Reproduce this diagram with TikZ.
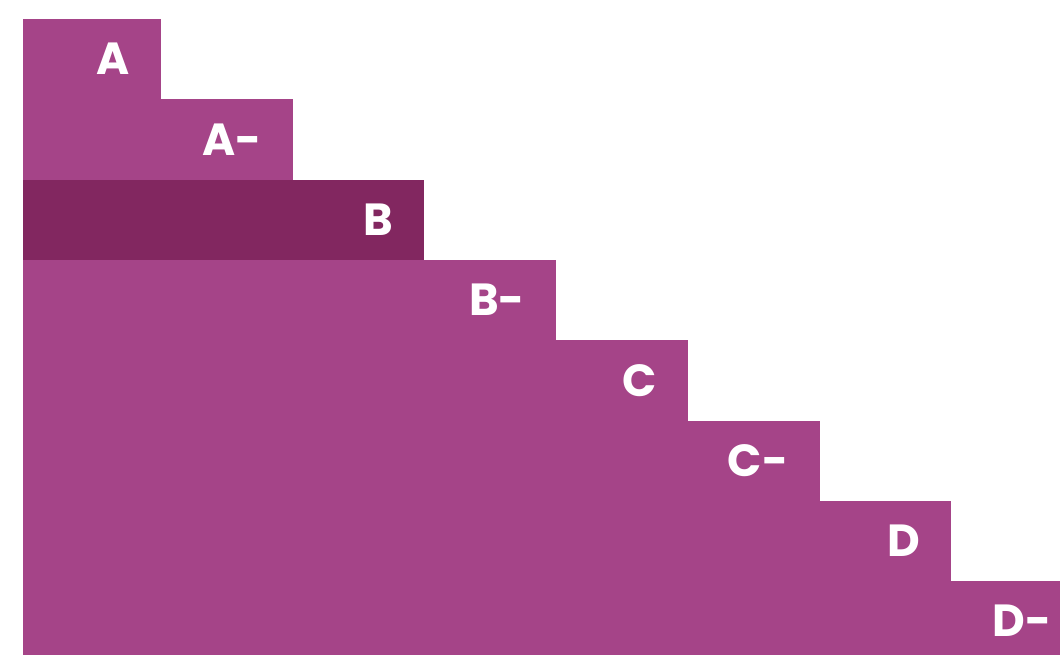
\documentclass[tikz,border=0pt]{standalone}
\usepackage{fontspec}
\setmainfont{Poppins}
\usepackage{xcolor}
\usetikzlibrary{positioning}
\definecolor{plum}{RGB}{165,68,136}
\definecolor{darkplum}{RGB}{130,39,96}

\begin{document}
\begin{tikzpicture}[x=1pt, y=-1pt,
    % Bar and label styles
    bar/.style={fill=plum, draw=none},
    gradetext/.style={anchor=east, inner sep=0pt, text=white, font=\bfseries\fontsize{45}{45}\selectfont}
]
\useasboundingbox (0,0) rectangle (1060,655);
\clip (0,0) rectangle (1060,655);

% Staircase rows, top to bottom (the last one runs off the page)
\foreach \grade/\col [count=\i from 0] in {A/plum, A-/plum, B/darkplum, B-/plum, C/plum, C-/plum, D/plum, D-/plum} {
    \pgfmathsetmacro{\top}{19+80.3*\i}
    \pgfmathsetmacro{\right}{161+131.7*\i}
    \fill[bar, fill=\col] (23,\top) rectangle (\right,\top+80.6);
    \node[gradetext] (grade\i) at (\right-31,\top+40) {\grade};
}

\end{tikzpicture}
\end{document}
